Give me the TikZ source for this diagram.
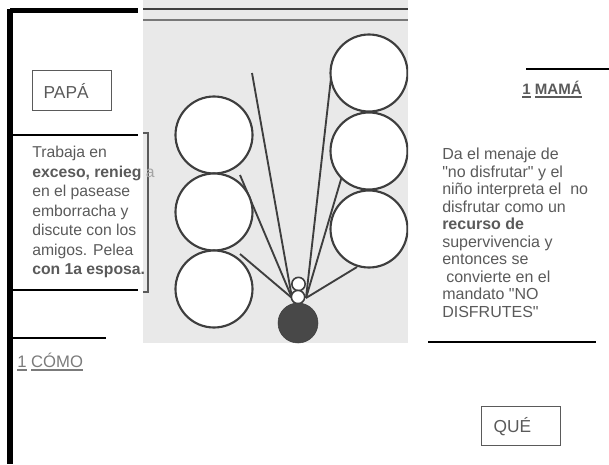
\documentclass[tikz,border=0pt]{standalone}
\usepackage{fontspec}
\setmainfont{Liberation Sans}[Ligatures=TeXOff]
\definecolor{ink}{HTML}{5A5A5A}
\definecolor{photoink}{HTML}{3E3E3E}
\definecolor{photobg}{HTML}{E9E9E9}
\newcommand{\undr}[1]{\setbox0\hbox{#1}\rlap{\rule[-2.6pt]{\wd0}{1.5pt}}\box0\relax}

\begin{document}
\begin{tikzpicture}[x=0.75pt,y=-0.75pt]
        \tikzset{rule/.style={line width=2.2pt},
                 ball/.style={circle,draw=photoink,fill=white,line width=1.6pt,minimum size=57.75pt,inner sep=0pt},
                 pebble/.style={circle,draw=photoink,fill=white,line width=1.2pt,minimum size=10pt,inner sep=0pt},
                 ray/.style={draw=photoink,line width=1.4pt},
                 namebox/.style={draw=ink,line width=1pt,text=ink,align=left,inner ysep=0pt,font=\fontsize{13}{15}\selectfont},
                 note/.style={text=ink,align=left,inner sep=0pt,anchor=north west}};
        \useasboundingbox (0,0) rectangle (609,464);

        % the photograph
        \fill[photobg] (143,0) rectangle (408,343);
        \draw[photoink,line width=2.2pt] (143,9) -- (408,9);
        \draw[photoink!70,line width=1.4pt] (143,20) -- (408,20);
        \begin{scope}
            \clip (143,0) rectangle (408,343);
            \coordinate (hubL) at (292,298);
            \coordinate (hubR) at (306,298);
            \coordinate (tipA) at (240,175);
            \coordinate (tipB) at (240,254);
            \coordinate (tipC) at (252,73);
            \coordinate (tipD) at (331,78);
            \coordinate (tipE) at (342,176);
            \coordinate (tipF) at (357,267);
            \draw[ray] (hubL) -- (tipA);
            \draw[ray] (hubL) -- (tipB);
            \draw[ray] (hubL) -- (tipC);
            \draw[ray] (hubR) -- (tipD);
            \draw[ray] (hubR) -- (tipE);
            \draw[ray] (hubR) -- (tipF);

            \node[ball] (left1) at (214,135) {};
            \node[ball] (left2) at (214,212) {};
            \node[ball] (left3) at (214,289) {};
            \node[ball] (right1) at (369,73) {};
            \node[ball] (right2) at (369,151) {};
            \node[ball] (right3) at (369,229) {};

            \node[pebble] (head) at (298.5,284) {};
            \node[pebble] (neck) at (298,297) {};
            \node[circle,fill=photoink!95,draw=photoink,minimum size=30pt,inner sep=0pt] (child) at (298,323) {};
        \end{scope}
        \draw[ink,line width=1pt] (143,133) -- (148,133) -- (148,292) -- (143,292);

        % frame on the left
        \draw[line width=3.8pt] (10,10.5) -- (138,10.5);
        \draw[line width=3.8pt] (10,8.6) -- (10,464);
        \draw[rule] (12,135) -- (138,135);
        \draw[rule] (12,290) -- (138,290);
        \draw[rule] (12,338) -- (106,338);

        % rules on the right
        \draw[line width=1.6pt] (526,69) -- (609,69);
        \draw[line width=1.6pt] (428,342) -- (596,342);

        \node[namebox,anchor=north west,text width=42.5pt,inner xsep=8.25pt,minimum height=30pt] (papa) at (32,70) {PAPÁ};
        \node[namebox,anchor=north west,text width=41.25pt,inner xsep=9pt,minimum height=29.25pt] (que) at (481,406) {QUÉ};

        \node[note,font=\fontsize{11.8}{14.6}\selectfont] (papatext) at (32,146)
            {Trabaja en\\ \textbf{exceso, renieg} \textcolor{ink!55}{a}\\ en el pasease\\ emborracha y\\
             discute con los\\ amigos. Pelea\\ \textbf{con 1a esposa.}};

        \node[text=ink,font=\fontsize{11.3}{13}\selectfont\bfseries,inner sep=0pt] (mama) at (552,90) {\undr{1} \undr{MAMÁ}};
        \node[note,font=\fontsize{12}{13.1}\selectfont] (mamatext) at (442,148)
            {Da el menaje de\\ "no disfrutar" y el\\ niño interpreta el\ \ no\\ disfrutar como un\\
             \textbf{recurso de}\\ supervivencia y\\ entonces se\\ \hspace{3pt}convierte en el\\
             mandato "NO\\ DISFRUTES"};

        \node[text=ink!80,font=\fontsize{12.5}{14}\selectfont,inner sep=0pt,anchor=west] (como) at (17,362) {\undr{1} \undr{CÓMO}};
\end{tikzpicture}
\end{document}
